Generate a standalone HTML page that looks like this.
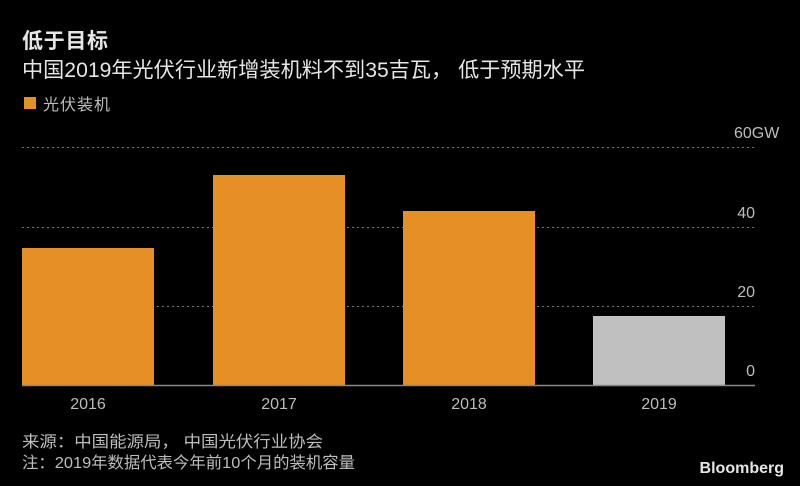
<!DOCTYPE html>
<html><head><meta charset="utf-8"><style>
body{margin:0;background:#000;width:800px;height:486px;overflow:hidden;font-family:"Liberation Sans","Noto Sans CJK SC",sans-serif;}
</style></head><body>
<svg width="800" height="486" xmlns="http://www.w3.org/2000/svg" style="display:block">
<rect width="800" height="486" fill="#000"/>
<g font-family="Liberation Sans, Noto Sans CJK SC, sans-serif">
<text x="22" y="48" font-size="21" font-weight="bold" fill="#e6e6e6" textLength="86">低于目标</text>
<text x="22" y="77" font-size="21" fill="#e6e6e6" textLength="563" lengthAdjust="spacingAndGlyphs">中国2019年光伏行业新增装机料不到35吉瓦， 低于预期水平</text>
<rect x="24" y="97" width="12" height="12" fill="#e58f25"/>
<text x="43" y="110" font-size="16" fill="#bdbdbd" textLength="67">光伏装机</text>
<g stroke="#777" stroke-width="1" stroke-dasharray="2,3">
<line x1="22" y1="147.5" x2="755" y2="147.5"/>
<line x1="22" y1="227.5" x2="755" y2="227.5"/>
<line x1="22" y1="306.5" x2="755" y2="306.5"/>
</g>
<rect x="22" y="248" width="132" height="138" fill="#e58f25"/>
<rect x="213" y="175" width="132" height="211" fill="#e58f25"/>
<rect x="403" y="211" width="132" height="175" fill="#e58f25"/>
<rect x="593" y="316" width="132" height="70" fill="#c0c0c0"/>
<line x1="22" y1="385.5" x2="755" y2="385.5" stroke="#888" stroke-width="1.5"/>
<g font-size="16" fill="#bdbdbd">
<text x="734" y="138">60GW</text>
<text x="755" y="218" text-anchor="end">40</text>
<text x="755" y="297" text-anchor="end">20</text>
<text x="755" y="376" text-anchor="end">0</text>
<g text-anchor="middle">
<text x="88" y="409">2016</text>
<text x="279" y="409">2017</text>
<text x="469" y="409">2018</text>
<text x="659" y="409">2019</text>
</g>
</g>
<text x="22" y="447" font-size="16" fill="#bdbdbd" textLength="301" lengthAdjust="spacingAndGlyphs">来源：中国能源局， 中国光伏行业协会</text>
<text x="22" y="468" font-size="16" fill="#bdbdbd" textLength="333" lengthAdjust="spacingAndGlyphs">注：2019年数据代表今年前10个月的装机容量</text>
<text x="784" y="473" font-size="16" font-weight="bold" fill="#e6e6e6" text-anchor="end">Bloomberg</text>
</g>
</svg>
</body></html>
